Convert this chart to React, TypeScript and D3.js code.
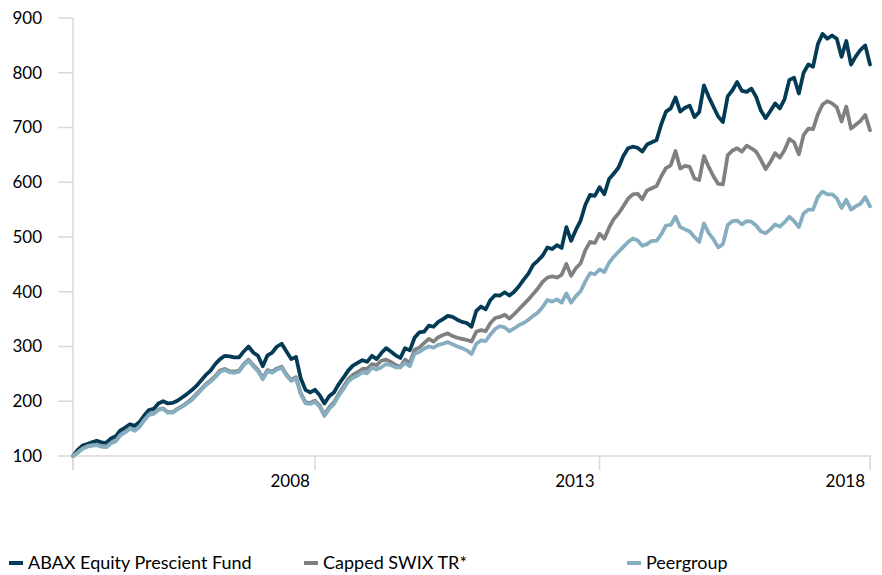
import React from "react";
import * as d3 from "d3";

const seriesNames = ["ABAX Equity Prescient Fund", "Capped SWIX TR*", "Peergroup"];

const abax = [
  100, 111, 119, 122, 125, 128, 125, 124, 132, 136,
  147, 152, 158, 155, 162, 174, 184, 186, 196, 200,
  196, 197, 201, 207, 213, 220, 228, 238, 248, 256,
  268, 277, 283, 282, 280, 280, 291, 300, 289, 283,
  264, 284, 289, 300, 305, 291, 277, 281, 242, 221,
  216, 221, 211, 196, 209, 216, 231, 243, 256, 265,
  270, 275, 272, 283, 277, 288, 297, 291, 284, 279,
  297, 293, 316, 326, 327, 338, 336, 345, 350, 356,
  354, 349, 345, 343, 336, 365, 373, 368, 385, 394,
  393, 399, 393, 400, 410, 422, 433, 449, 457, 466,
  481, 478, 485, 480, 518, 493, 513, 530, 559, 577,
  575, 591, 578, 606, 616, 627, 648, 662, 665, 663,
  656, 669, 673, 677, 706, 729, 735, 755, 729, 736,
  740, 719, 728, 777, 756, 738, 720, 710, 757, 768,
  783, 767, 765, 771, 756, 731, 717, 730, 744, 735,
  752, 787, 791, 762, 800, 815, 811, 852, 871, 862,
  868, 862, 829, 858, 815, 830, 842, 850, 815,
];

const swix = [
  100, 107, 114, 118, 120, 121, 118, 117, 124, 128,
  139, 144, 151, 147, 154, 166, 176, 178, 185, 187,
  180, 180, 186, 191, 197, 204, 213, 222, 231, 238,
  246, 256, 259, 255, 254, 256, 268, 276, 266, 257,
  242, 257, 254, 260, 263, 249, 239, 244, 215, 198,
  197, 201, 192, 175, 189, 198, 213, 226, 240, 248,
  253, 259, 259, 268, 266, 274, 276, 272, 266, 263,
  276, 270, 294, 298, 306, 314, 309, 317, 321, 324,
  319, 316, 314, 312, 309, 327, 330, 328, 343, 352,
  354, 358, 351, 359, 368, 377, 386, 396, 406, 418,
  426, 428, 426, 431, 451, 429, 443, 452, 476, 491,
  489, 506, 497, 517, 533, 543, 556, 570, 578, 579,
  569, 585, 589, 593, 611, 626, 631, 657, 625, 630,
  628, 607, 604, 648, 628, 611, 597, 596, 649, 658,
  662, 656, 667, 662, 656, 641, 624, 637, 653, 645,
  659, 679, 673, 651, 686, 698, 697, 724, 742, 748,
  744, 737, 711, 738, 698, 705, 712, 723, 695,
];

const peer = [
  100, 106, 113, 117, 119, 120, 117, 116, 123, 127,
  138, 143, 150, 146, 153, 165, 175, 177, 184, 186,
  179, 179, 185, 190, 196, 202, 211, 220, 229, 236,
  244, 254, 257, 253, 252, 254, 266, 274, 264, 255,
  240, 255, 252, 258, 261, 247, 237, 242, 213, 196,
  195, 199, 190, 173, 186, 195, 210, 222, 236, 243,
  247, 253, 251, 261, 258, 262, 268, 266, 262, 262,
  270, 264, 287, 290, 296, 300, 298, 303, 305, 308,
  304, 300, 297, 293, 286, 305, 311, 310, 322, 332,
  337, 335, 328, 333, 339, 343, 349, 356, 362, 372,
  385, 382, 386, 380, 397, 380, 392, 401, 419, 434,
  432, 441, 436, 453, 464, 473, 482, 491, 497, 494,
  484, 487, 493, 493, 505, 521, 522, 537, 518, 514,
  510, 500, 491, 525, 507, 496, 481, 487, 522, 529,
  530, 523, 529, 528, 521, 510, 507, 514, 523, 519,
  527, 537, 529, 518, 543, 550, 550, 573, 583, 578,
  578, 571, 553, 568, 550, 556, 561, 573, 556,
];

const yTicks = [100, 200, 300, 400, 500, 600, 700, 800, 900];
const xTickIndex = [0, 51, 111, 168];
const xTickLabels = ["", "2008", "2013", "2018"];

const colors = ["#033A55", "#808080", "#85AEC0"];
const FONT = "Lato, 'Open Sans', sans-serif";

export default function App() {
  const W = 882;
  const H = 575;
  const x = d3.scaleLinear().domain([0, abax.length - 1]).range([73, 870]);
  const y = d3.scaleLinear().domain([100, 900]).range([456, 18]);
  const line = d3
    .line<number>()
    .x((_, i) => x(i))
    .y((d) => y(d))
    .curve(d3.curveLinear);
  const all = [abax, swix, peer];
  const axisColor = "#D9D9D9";
  const legendX = [9, 304, 627];

  return (
    <svg
      width={W}
      height={H}
      style={{ position: "absolute", left: 0, top: 0, background: "#fff" }}
      fontFamily={FONT}
    >
      {/* y axis */}
      <line x1={x(0)} x2={x(0)} y1={y(900)} y2={y(100) + 14} stroke={axisColor} strokeWidth={1.5} />
      {yTicks.map((t) => (
        <g key={t}>
          <line x1={58} x2={x(0)} y1={y(t)} y2={y(t)} stroke={axisColor} strokeWidth={1.5} />
          <text x={42} y={y(t)} dy="0.35em" textAnchor="end" fontSize={17} fill="#000">
            {t}
          </text>
        </g>
      ))}
      {/* x axis */}
      <line x1={x(0)} x2={x(168) + 1} y1={y(100)} y2={y(100)} stroke={axisColor} strokeWidth={1.5} />
      {xTickIndex.map((ti, k) => (
        <g key={ti}>
          <line x1={x(ti)} x2={x(ti)} y1={y(100)} y2={y(100) + 14} stroke={axisColor} strokeWidth={1.5} />
          <text x={x(ti) - 5} y={481} dy="0.35em" textAnchor="end" fontSize={17} fill="#000">
            {xTickLabels[k]}
          </text>
        </g>
      ))}
      {/* lines */}
      {all.map((s, k) => (
        <path
          key={k}
          d={line(s) || ""}
          fill="none"
          stroke={colors[k]}
          strokeWidth={3.75}
          strokeLinejoin="round"
          strokeLinecap="round"
        />
      ))}
      {/* legend */}
      {seriesNames.map((n, k) => (
        <g key={n}>
          <rect x={legendX[k]} y={561} width={14} height={4} fill={colors[k]} />
          <text x={legendX[k] + 19} y={563} dy="0.35em" fontSize={18} fill="#000">
            {n}
          </text>
        </g>
      ))}
    </svg>
  );
}
